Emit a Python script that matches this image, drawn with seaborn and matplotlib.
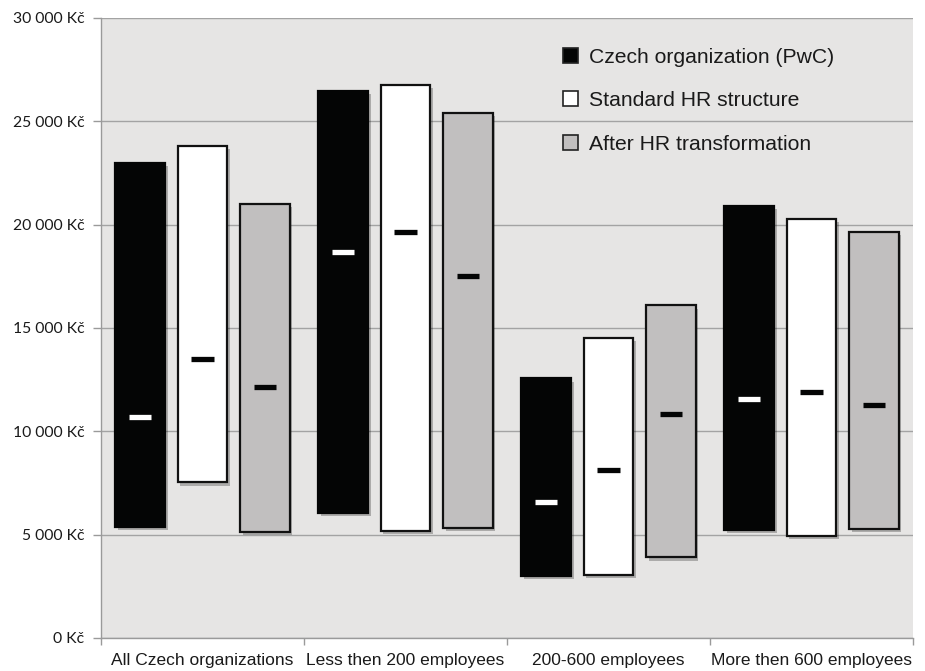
import numpy as np
import pandas as pd
import matplotlib
matplotlib.use("Agg")
import matplotlib.pyplot as plt
import matplotlib.patheffects as pe
from matplotlib.patches import Patch
from matplotlib.ticker import FuncFormatter, MultipleLocator, FixedLocator
import seaborn as sns

# DATA
groups = ["All Czech organizations", "Less then 200 employees",
          "200-600 employees", "More then 600 employees"]
series = ["Czech organization (PwC)", "Standard HR structure",
          "After HR transformation"]

# min / max / median salary (Kč) per series, one value per group
low_pwc = [5390, 6060, 3000, 5230]
high_pwc = [23000, 26480, 12570, 20920]
mid_pwc = [10690, 18660, 6570, 11560]

low_std = [7530, 5180, 3050, 4940]
high_std = [23820, 26760, 14530, 20290]
mid_std = [13520, 19660, 8130, 11900]

low_hr = [5150, 5340, 3900, 5290]
high_hr = [21000, 25420, 16100, 19660]
mid_hr = [12160, 17530, 10820, 11290]

colors = ["#040505", "#ffffff", "#c1bfbf"]
median_colors = ["#ffffff", "#040505", "#040505"]

rows = []
for s, lo, hi, md in zip(series, [low_pwc, low_std, low_hr],
                         [high_pwc, high_std, high_hr],
                         [mid_pwc, mid_std, mid_hr]):
    for g, a, b, m in zip(groups, lo, hi, md):
        rows.append({"group": g, "series": s, "low": a, "high": b,
                     "span": b - a, "median": m})
df = pd.DataFrame(rows)

sns.set_theme(style="white")
plt.rcParams["font.family"] = ["Liberation Sans", "DejaVu Sans"]

fig = plt.figure(figsize=(9.25, 6.71), dpi=100)
ax = fig.add_axes([0.1092, 0.0492, 0.8778, 0.924])
ax.set_facecolor("#e6e5e4")

sns.barplot(data=df, x="group", y="span", hue="series", order=groups,
            hue_order=series, palette=colors, width=0.92, gap=0.2,
            edgecolor="#111111", linewidth=1.6, legend=False, ax=ax,
            zorder=3)

shadow = [pe.SimplePatchShadow(offset=(2, -2.5), shadow_rgbFace="#000000",
                               alpha=0.25), pe.Normal()]

# move every bar up to its minimum and add the median marker
for cont, s, mc in zip(ax.containers, series, median_colors):
    sub = df[df["series"] == s].set_index("group").loc[groups]
    for patch, lo, md in zip(cont.patches, sub["low"], sub["median"]):
        patch.set_y(lo)
        patch.set_path_effects(shadow)
        if s == series[0]:
            patch.set_edgecolor("#040505")
        xc = patch.get_x() + patch.get_width() / 2
        ax.hlines(md, xc - 0.055, xc + 0.055, color=mc, linewidth=3.8,
                  zorder=4)

ax.set_ylim(0, 30000)
ax.set_xlim(-0.5, 3.5)
ax.yaxis.set_major_locator(MultipleLocator(5000))
ax.yaxis.set_major_formatter(
    FuncFormatter(lambda v, p: f"{v:,.0f} Kč".replace(",", " ")))
ax.grid(axis="y", color="#a3a3a3", linewidth=1.0, zorder=0)
ax.set_axisbelow(True)

ax.set_xlabel("")
ax.set_ylabel("")
ax.xaxis.set_minor_locator(FixedLocator([-0.5, 0.5, 1.5, 2.5, 3.5]))
ax.tick_params(axis="x", which="major", length=0, pad=11, labelsize=12.5,
               labelcolor="#1a1a1a")
ax.tick_params(axis="x", which="minor", length=5, color="#9a9a9a",
               width=1, bottom=True)
ax.tick_params(axis="y", length=6, color="#9a9a9a", width=1, left=True,
               labelsize=11.3, labelcolor="#1a1a1a", pad=6)
for lab in ax.get_yticklabels():
    lab.set_family(["Lato", "DejaVu Sans"])

for side in ["top", "right"]:
    ax.spines[side].set_visible(False)
for side in ["left", "bottom"]:
    ax.spines[side].set_color("#9a9a9a")
    ax.spines[side].set_linewidth(1)

handles = [Patch(facecolor=c, edgecolor="#222222", linewidth=1.2)
           for c in colors]
ax.legend(handles, series, loc="upper left", bbox_to_anchor=(0.5685, 0.9515),
          frameon=False, fontsize=15.2, handlelength=0.72, handleheight=0.72,
          handletextpad=0.55, labelspacing=1.15, borderaxespad=0,
          borderpad=0, labelcolor="#1a1a1a")

fig.savefig("out.png", dpi=100)
